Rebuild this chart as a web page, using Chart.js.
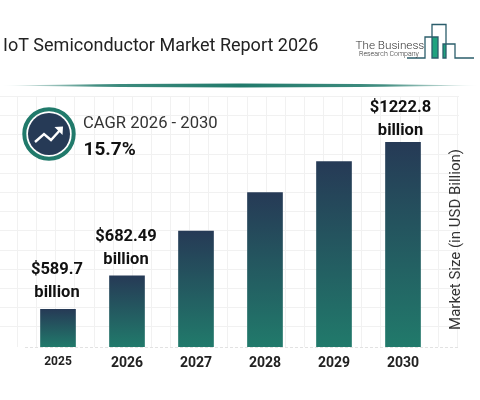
<!DOCTYPE html>
<html><head><meta charset="utf-8">
<style>html,body{margin:0;padding:0;background:#fff}#w{width:480px;height:400px;position:relative}</style>
<script src="https://cdn.jsdelivr.net/npm/chart.js@4"></script>
</head><body><div id="w"><canvas id="c" width="480" height="400"></canvas></div>
<script>
const categories = ["2025","2026","2027","2028","2029","2030"];
const marketSize = [589.7, 682.49, 830, 982, 1125, 1222.8];
const firstLabels = ["$589.7","$682.49","","","","$1222.8"];
const secondLabels = ["billion","billion","","","","billion"];
const chartTitle = "IoT Semiconductor Market Report 2026";
const axisTitle = "Market Size (in USD Billion)";
const cagrTitle = "CAGR 2026 - 2030";
const cagrValue = "15.7%";
const logoTop = "The Business";
const logoBottom = "Research Company";

const DARK="#263a56", GREEN="#217a6b", FF="Roboto, sans-serif";

const decor = {
  id:"decor",
  beforeDraw(chart){
    const g=chart.ctx; g.save();
    g.fillStyle="#fff"; g.fillRect(0,0,480,400);
    // background grid
    g.strokeStyle="#f1f1f1"; g.lineWidth=1;
    for(let i=0;i<24;i++){const x=Math.round(17+i*19.13)+.5;g.beginPath();g.moveTo(x,97);g.lineTo(x,347);g.stroke();}
    for(let i=0;i<13;i++){const y=Math.round(96+i*19.2)+.5;g.beginPath();g.moveTo(0,y);g.lineTo(459,y);g.stroke();}
    g.strokeStyle="#e2e2e2"; g.setLineDash([3,2]);
    g.beginPath();g.moveTo(25,347.5);g.lineTo(459,347.5);g.stroke();g.setLineDash([]);
    // separator
    const lg=g.createLinearGradient(0,0,480,0);
    lg.addColorStop(0,"rgba(33,122,107,0)");lg.addColorStop(.2,"rgba(33,122,107,.85)");
    lg.addColorStop(.5,"#217a6b");lg.addColorStop(.8,"rgba(33,122,107,.85)");lg.addColorStop(1,"rgba(33,122,107,0)");
    g.fillStyle=lg;g.beginPath();g.moveTo(0,85.5);g.quadraticCurveTo(240,81.5,480,85.5);g.quadraticCurveTo(240,89.5,0,85.5);g.fill();
    // logo
    g.fillStyle="#1fa37f";g.fillRect(432,37,6,21);g.fillRect(443,44,3,14);
    g.strokeStyle="#2b5d6b";g.lineWidth=1.3;
    g.beginPath();g.moveTo(407,58);g.lineTo(425,58);g.lineTo(425,37);g.lineTo(438,37);g.lineTo(438,58);g.lineTo(432,58);g.lineTo(432,24.5);g.lineTo(446,24.5);g.lineTo(446,58);g.lineTo(443,58);g.lineTo(443,44);g.lineTo(455,44);g.lineTo(455,58);g.lineTo(474,58);g.stroke();
    g.textBaseline="alphabetic";g.textAlign="left";g.fillStyle="#333";
    g.font="300 11.7px "+FF;g.fillText(logoTop,355.5,48.5);
    g.font="300 7px "+FF;g.fillText(logoBottom,359,55.5);
    // CAGR badge
    g.strokeStyle=GREEN;g.lineWidth=4;g.beginPath();g.arc(49,134,24.7,0,7);g.stroke();
    g.fillStyle=DARK;g.beginPath();g.arc(49,134,21,0,7);g.fill();
    g.strokeStyle="#fff";g.lineWidth=2.4;g.lineJoin="miter";
    g.beginPath();g.moveTo(35,142);g.lineTo(44,134);g.lineTo(51,140);g.lineTo(61,129);g.stroke();
    g.fillStyle="#fff";g.beginPath();g.moveTo(63,126.5);g.lineTo(62.5,135);g.lineTo(54.5,127);g.closePath();g.fill();
    g.fillStyle="#333";g.font="400 16.6px "+FF;g.fillText(cagrTitle,83,128);
    g.fillStyle="#111";g.font="700 19px "+FF;g.fillText(cagrValue,83.5,154.5);
    // rotated value-axis title
    g.save();g.translate(456,239.5);g.rotate(-Math.PI/2);g.textAlign="center";g.textBaseline="middle";
    g.fillStyle="#333";g.font="400 15px "+FF;g.fillText(axisTitle,0,0);g.restore();
    g.restore();
  },
  afterDatasetsDraw(chart){
    const g=chart.ctx, bars=chart.getDatasetMeta(0).data;
    g.save();g.textAlign="center";g.textBaseline="middle";g.fillStyle="#111";g.font="700 16.5px "+FF;
    bars.forEach((b,i)=>{
      if(!firstLabels[i])return;
      const lift=i===5?12:16;
      const cx=b.x-(i===5?2.5:1);
      g.fillText(firstLabels[i],cx,b.y-lift-23);
      g.fillText(secondLabels[i],cx,b.y-lift);
    });
    g.restore();
  }
};

new Chart(document.getElementById("c"),{
  type:"bar",
  plugins:[decor],
  data:{labels:categories,datasets:[{
    data:marketSize,
    barThickness:35,
    backgroundColor(ctx){
      const ch=ctx.chart;
      if(!ch.chartArea||ctx.parsed===undefined||ctx.dataIndex===undefined)return GREEN;
      const y=ch.scales.y;
      const gr=ch.ctx.createLinearGradient(0,y.getPixelForValue(marketSize[ctx.dataIndex]),0,y.bottom);
      gr.addColorStop(0,DARK);gr.addColorStop(1,GREEN);
      return gr;
    }
  }]},
  options:{
    responsive:false,animation:false,
    layout:{padding:{left:3,right:0,top:0,bottom:29}},
    plugins:{
      legend:{display:false},tooltip:{enabled:false},
      title:{display:true,text:chartTitle,align:"start",color:"#222",
        font:{family:FF,size:18,weight:"400"},padding:{top:36,bottom:74}}
    },
    scales:{
      x:{
        grid:{display:false,drawTicks:false},border:{display:false},
        ticks:{color:"#222",padding:8,maxRotation:0,
          font(ctx){return {family:FF,weight:"700",size:ctx.index===0?12:14};}},
        afterFit(s){s.height=24;}
      },
      y:{
        type:"logarithmic",position:"right",min:500,max:1282,
        grid:{display:false},border:{display:false},
        ticks:{display:false},
        afterFit(s){s.width=42.5;}
      },
      left:{
        type:"linear",position:"left",
        grid:{display:false},border:{display:false},ticks:{display:false},
        afterFit(s){s.width=20.5;}
      }
    }
  }
});
</script></body></html>
